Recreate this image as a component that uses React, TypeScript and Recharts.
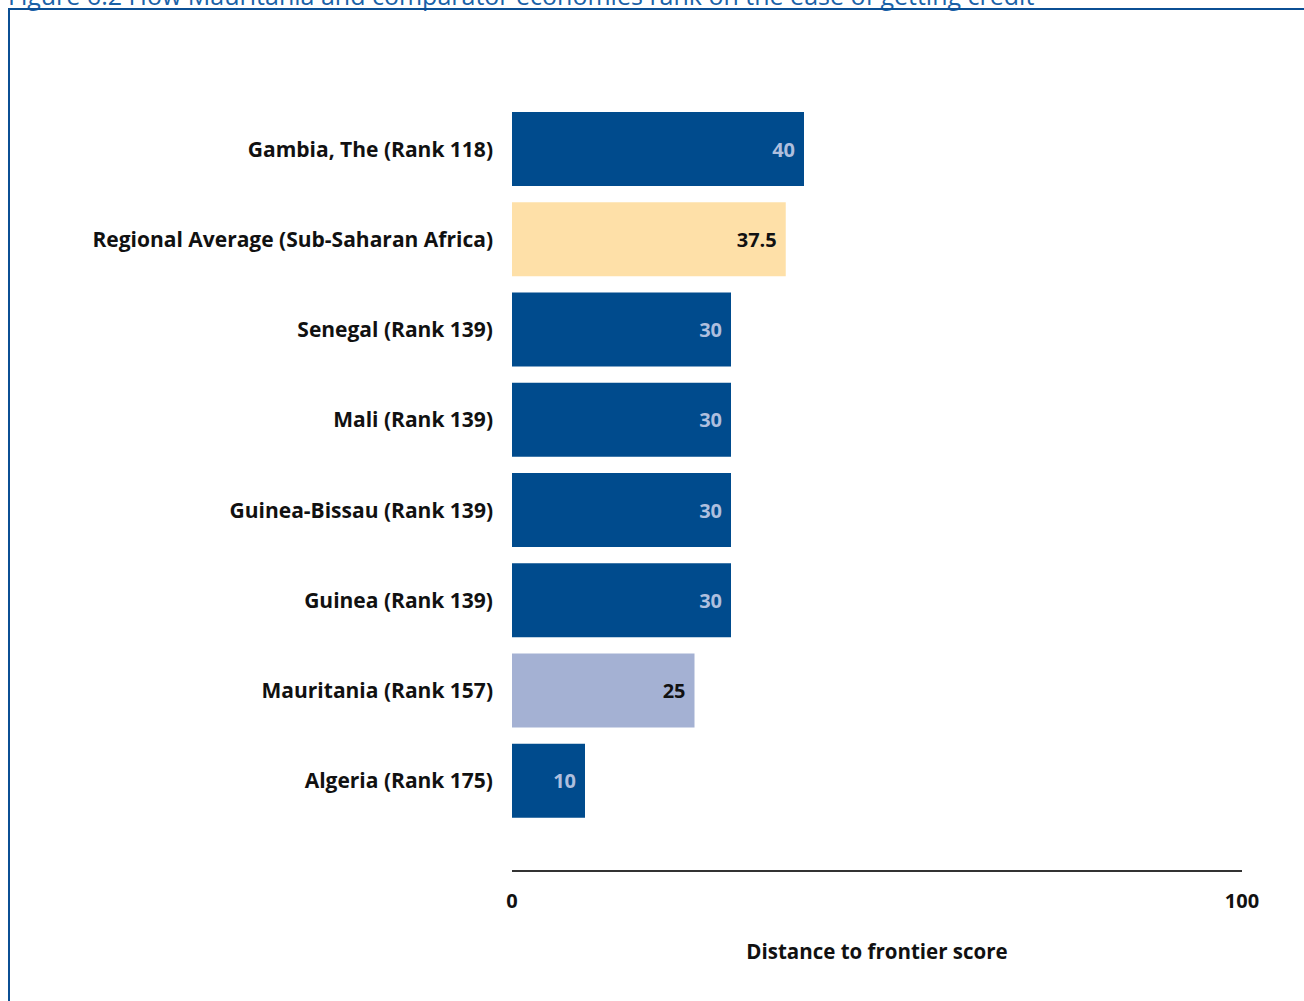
import React from "react";
import { BarChart, Bar, XAxis, YAxis, Cell, LabelList } from "recharts";

const categories = [
  "Gambia, The (Rank 118)",
  "Regional Average (Sub-Saharan Africa)",
  "Senegal (Rank 139)",
  "Mali (Rank 139)",
  "Guinea-Bissau (Rank 139)",
  "Guinea (Rank 139)",
  "Mauritania (Rank 157)",
  "Algeria (Rank 175)",
];
const scores = [40, 37.5, 30, 30, 30, 30, 25, 10];
const kinds = ["comp", "avg", "comp", "comp", "comp", "comp", "focus", "comp"];
const xTicks = [0, 100];

const fillFor: Record<string, string> = { comp: "#004b8d", avg: "#fee0a8", focus: "#a4b1d3" };
const labelFor: Record<string, string> = { comp: "#aebfde", avg: "#111111", focus: "#111111" };

const data = categories.map((name, i) => ({ name, score: scores[i], kind: kinds[i] }));

const FONT = "'Open Sans', 'DejaVu Sans', sans-serif";
const FS = 21;

const BarValue = (props: any) => {
  const { x, y, width, height, index } = props;
  const d = data[index];
  return (
    <text
      x={x + width - 9}
      y={y + height / 2}
      textAnchor="end"
      dominantBaseline="central"
      fontFamily={FONT}
      fontWeight={700}
      fontSize={20}
      fill={labelFor[d.kind]}
    >
      {d.score}
    </text>
  );
};

export default function App() {
  return (
    <div style={{ position: "absolute", left: 0, top: 0, width: 1304, height: 1001, overflow: "hidden", background: "#fff" }}>
      <div
        style={{
          position: "absolute",
          left: 8,
          top: -22,
          fontFamily: FONT,
          fontSize: 25,
          color: "#1a62a8",
          whiteSpace: "nowrap",
        }}
      >
        Figure 6.2 How Mauritania and comparator economies rank on the ease of getting credit
      </div>
      <div
        style={{
          position: "absolute",
          left: 8,
          top: 8,
          width: 1320,
          height: 1010,
          borderLeft: "2px solid #0b4f94",
          borderTop: "2px solid #0b4f94",
        }}
      />
      <div style={{ position: "absolute", left: 0, top: 0 }}>
        <BarChart
          width={1304}
          height={1001}
          data={data}
          layout="vertical"
          margin={{ top: 104, right: 62, bottom: 0, left: 0 }}
          barSize={74}
        >
          <XAxis
            type="number"
            domain={[0, 100]}
            ticks={xTicks}
            height={130}
            tickLine={false}
            tickSize={0}
            tickMargin={23}
            axisLine={{ stroke: "#333333", strokeWidth: 2 }}
            tick={{ fontFamily: FONT, fontWeight: 700, fontSize: 20, fill: "#111" }}
            label={{
              value: "Distance to frontier score",
              position: "insideBottom",
              offset: 42,
              style: { fontFamily: FONT, fontWeight: 700, fontSize: 20.5, fill: "#111" },
            }}
          />
          <YAxis
            type="category"
            dataKey="name"
            width={512}
            axisLine={false}
            tickLine={false}
            tickSize={0}
            tickMargin={19}
            padding={{ top: 0, bottom: 45 }}
            interval={0}
            tick={{ fontFamily: FONT, fontWeight: 700, fontSize: FS, fill: "#111" }}
          />
          <Bar dataKey="score" isAnimationActive={false}>
            {data.map((d, i) => (
              <Cell key={i} fill={fillFor[d.kind]} />
            ))}
            <LabelList dataKey="score" content={BarValue} />
          </Bar>
        </BarChart>
      </div>
    </div>
  );
}
